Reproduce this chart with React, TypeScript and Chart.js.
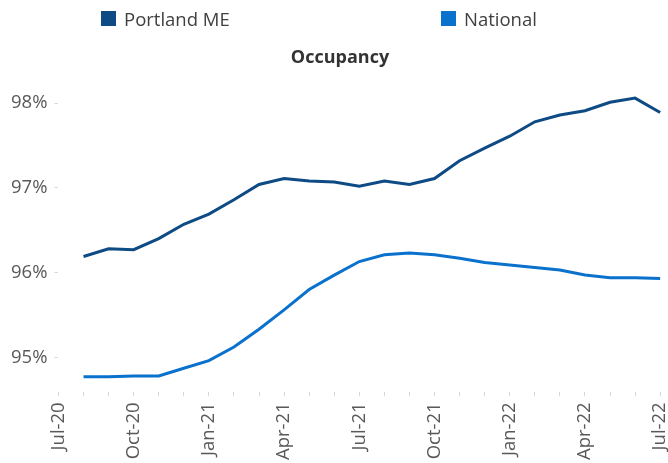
import React, { useEffect, useRef } from "react";
import { Chart, registerables } from "chart.js";

Chart.register(...registerables);

const months = [
  "Jul-20", "Aug-20", "Sep-20", "Oct-20", "Nov-20", "Dec-20",
  "Jan-21", "Feb-21", "Mar-21", "Apr-21", "May-21", "Jun-21",
  "Jul-21", "Aug-21", "Sep-21", "Oct-21", "Nov-21", "Dec-21",
  "Jan-22", "Feb-22", "Mar-22", "Apr-22", "May-22", "Jun-22", "Jul-22",
];

const portland = [
  null, 96.19, 96.28, 96.27, 96.40, 96.57,
  96.69, 96.86, 97.04, 97.11, 97.08, 97.07,
  97.02, 97.08, 97.04, 97.11, 97.32, 97.47,
  97.61, 97.78, 97.86, 97.91, 98.01, 98.06, 97.89,
];

const national = [
  null, 94.77, 94.77, 94.78, 94.78, 94.87,
  94.96, 95.12, 95.33, 95.56, 95.80, 95.97,
  96.13, 96.21, 96.23, 96.21, 96.17, 96.12,
  96.09, 96.06, 96.03, 95.97, 95.94, 95.94, 95.93,
];

const yTicks = [95, 96, 97, 98];

const seriesNames = ["Portland ME", "National"];
const seriesColors = ["#0e4a84", "#0a72cd"];

const FONT = "'Open Sans', 'Noto Sans', sans-serif";

export default function App() {
  const canvasRef = useRef<HTMLCanvasElement | null>(null);

  useEffect(() => {
    if (!canvasRef.current) return;
    const chart = new Chart(canvasRef.current, {
      type: "line",
      data: {
        labels: months,
        datasets: [
          {
            label: seriesNames[0],
            data: portland,
            borderColor: seriesColors[0],
            backgroundColor: seriesColors[0],
            borderWidth: 3,
            pointRadius: 0,
            tension: 0,
          },
          {
            label: seriesNames[1],
            data: national,
            borderColor: seriesColors[1],
            backgroundColor: seriesColors[1],
            borderWidth: 3,
            pointRadius: 0,
            tension: 0,
          },
        ],
      },
      options: {
        responsive: false,
        animation: false,
        layout: { padding: { top: 37, left: 4, right: -8, bottom: -3 } },
        plugins: {
          legend: { display: false },
          tooltip: { enabled: false },
          title: {
            display: true,
            text: "Occupancy",
            color: "#333333",
            font: { family: FONT, size: 18, weight: "bold" },
            padding: { top: 10, bottom: 10 },
          },
        },
        scales: {
          x: {
            type: "category",
            grid: {
              drawOnChartArea: false,
              drawTicks: true,
              tickLength: 4,
              color: "#d9d9d9",
            },
            border: { display: false },
            ticks: {
              autoSkip: false,
              minRotation: 90,
              maxRotation: 90,
              padding: 6,
              color: "#595959",
              font: { family: FONT, size: 18.5, lineHeight: 0.1 },
              callback: (_v: any, i: number) => (i % 3 === 0 ? months[i] : ""),
            },
          },
          y: {
            min: 94.586,
            max: 98.29,
            grid: {
              drawOnChartArea: false,
              drawTicks: true,
              tickLength: 4,
              color: "#d9d9d9",
            },
            border: { display: false },
            afterBuildTicks: (scale: any) => {
              scale.ticks = yTicks.map((v) => ({ value: v }));
            },
            ticks: {
              padding: 7,
              color: "#595959",
              font: { family: FONT, size: 18.5 },
              callback: (v: any) => `${v}%`,
            },
          },
        },
      },
    });
    return () => chart.destroy();
  }, []);

  const legendItem = (i: number, left: number) => (
    <div
      key={i}
      style={{
        position: "absolute",
        left,
        top: 8,
        height: 21,
        display: "flex",
        alignItems: "center",
        fontFamily: FONT,
        fontSize: 18.5,
        color: "#404040",
        whiteSpace: "nowrap",
      }}
    >
      <span
        style={{
          display: "inline-block",
          width: 15,
          height: 15,
          background: seriesColors[i],
          marginRight: 8,
        }}
      />
      <span>{seriesNames[i]}</span>
    </div>
  );

  return (
    <div style={{ position: "absolute", left: 0, top: 0, width: 668, height: 463 }}>
      <canvas ref={canvasRef} width={668} height={463} style={{ display: "block" }} />
      {legendItem(0, 101)}
      {legendItem(1, 441)}
    </div>
  );
}
